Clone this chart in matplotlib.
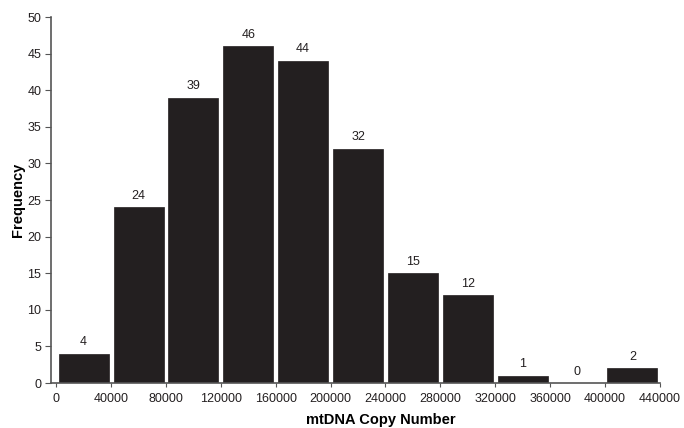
import numpy as np
import matplotlib.pyplot as plt

plt.rcParams['font.family'] = ['Liberation Sans', 'DejaVu Sans']

bin_edges = [0, 40000, 80000, 120000, 160000, 200000, 240000, 280000, 320000, 360000, 400000, 440000]
counts = [4, 24, 39, 46, 44, 32, 15, 12, 1, 0, 2]

edges = np.array(bin_edges)
centers = (edges[:-1] + edges[1:]) / 2
bin_w = edges[1] - edges[0]

fig = plt.figure(figsize=(6.84, 4.28), dpi=100)
ax = fig.add_axes([0.0746, 0.105, 0.890, 0.855])

bars = ax.bar(centers, counts, width=bin_w * 0.91, color='#231f20',
              edgecolor='#231f20', linewidth=0.5)
ax.bar_label(bars, labels=[str(c) for c in counts], padding=4, fontsize=9,
             color='#231f20')

ax.set_xlim(-3800, 440000)
ax.set_ylim(0, 50)
ax.set_xticks(bin_edges)
ax.set_xticklabels([str(e) for e in bin_edges])
ax.set_yticks(range(0, 51, 5))

for side in ['top', 'right']:
    ax.spines[side].set_visible(False)
for side in ['left', 'bottom']:
    ax.spines[side].set_color('#555555')
    ax.spines[side].set_linewidth(1.2)

ax.tick_params(axis='y', labelsize=9, length=4, pad=3, color='#555555',
               labelcolor='#231f20')
ax.tick_params(axis='x', labelsize=9, length=3, pad=4, color='#555555',
               labelcolor='#231f20')

ax.set_xlabel('mtDNA Copy Number', fontsize=10.5, fontweight='bold')
ax.set_ylabel('Frequency', fontsize=10.5, fontweight='bold')
ax.xaxis.set_label_coords(0.542, -0.082)
ax.yaxis.set_label_coords(-0.043, 0.5)

fig.savefig('out.png', dpi=100)
